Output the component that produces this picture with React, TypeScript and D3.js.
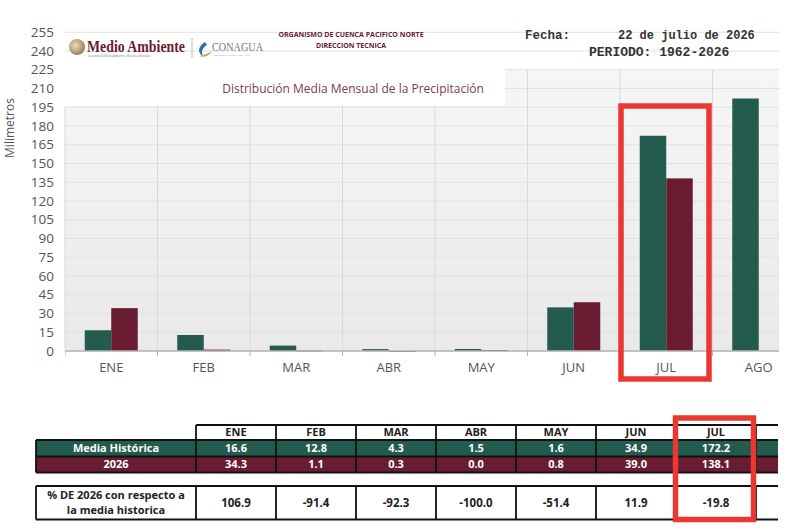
import React from 'react'
import * as d3 from 'd3'

// Monthly precipitation, mm
const months = ['ENE', 'FEB', 'MAR', 'ABR', 'MAY', 'JUN', 'JUL', 'AGO']
const mediaHistorica = [16.6, 12.8, 4.3, 1.5, 1.6, 34.9, 172.2, 202.0]
const lluvia2026 = [34.3, 1.1, 0.3, 0.0, 0.8, 39.0, 138.1, null]
const tableMonths = ['ENE', 'FEB', 'MAR', 'ABR', 'MAY', 'JUN', 'JUL']
const porcentaje = ['106.9', '-91.4', '-92.3', '-100.0', '-51.4', '11.9', '-19.8']
const yTicks = d3.range(0, 256, 15)

const GREEN = '#235B4E'
const GUINDA = '#691C32'
const RED = '#E8382F'
const FONT = "'Open Sans', Lato, sans-serif"
const MONO = "'Liberation Mono', 'DejaVu Sans Mono', monospace"
const SERIF = "'Liberation Serif', 'DejaVu Serif', serif"

export default function App() {
  const W = 799
  const H = 532
  const plot = { left: 65, right: 779, top: 32.25, bottom: 351 }

  const x = d3.scaleBand<string>().domain(months).range([plot.left, plot.left + 92.5 * months.length])
  const xSub = d3.scaleBand<string>().domain(['hist', 'y2026']).range([19.75, 72.75])
  const y = d3.scaleLinear().domain([0, 255]).range([plot.bottom, plot.top])

  // table columns
  const col = d3.scaleBand<string>().domain(months).range([196, 196 + 80 * months.length])
  const rowHead = { top: 425, bottom: 440 }
  const rowHist = { top: 440, bottom: 456.5 }
  const row26 = { top: 456.5, bottom: 472.5 }
  const rowPct = { top: 486, bottom: 519.5 }

  const bars: { m: string; key: string; v: number; color: string }[] = []
  months.forEach((m, i) => {
    bars.push({ m, key: 'hist', v: mediaHistorica[i], color: GREEN })
    const v = lluvia2026[i]
    if (v !== null) bars.push({ m, key: 'y2026', v, color: GUINDA })
  })

  return (
    <div style={{ position: 'fixed', left: 0, top: 0 }}>
      <svg width={W} height={H} style={{ display: 'block', background: '#fff' }}>
        <defs>
          <linearGradient id="plotBg" x1="0" y1="0" x2="0" y2="1">
            <stop offset="0" stopColor="#f6f6f6" />
            <stop offset="1" stopColor="#e9e9e9" />
          </linearGradient>
          <radialGradient id="emblem" cx="0.4" cy="0.4" r="0.7">
            <stop offset="0" stopColor="#e8dcc0" />
            <stop offset="0.6" stopColor="#b89f74" />
            <stop offset="1" stopColor="#7d6a4c" />
          </radialGradient>
          <clipPath id="plotClip">
            <rect x={plot.left} y={0} width={plot.right - plot.left} height={plot.bottom + 20} />
          </clipPath>
          <clipPath id="tableClip">
            <rect x={0} y={400} width={778} height={132} />
          </clipPath>
        </defs>

        {/* plot area */}
        <g clipPath="url(#plotClip)">
          <rect x={plot.left} y={y(225)} width={plot.right - plot.left} height={plot.bottom - y(225)} fill="url(#plotBg)" />
          {yTicks.map((t) => (
            <line key={t} x1={plot.left} x2={plot.right} y1={y(t)} y2={y(t)} stroke="#e1e1e1" strokeWidth={1} />
          ))}
          {months.slice(1).map((m) => (
            <line key={m} x1={x(m)} x2={x(m)} y1={y(225)} y2={plot.bottom} stroke="#d9d9d9" strokeWidth={1} />
          ))}
          {bars.map((b) => (
            <rect
              key={b.m + b.key}
              x={(x(b.m) || 0) + (xSub(b.key) || 0)}
              y={y(b.v)}
              width={xSub.bandwidth()}
              height={Math.max(plot.bottom - y(b.v), 0.8)}
              fill={b.color}
            />
          ))}
          <line x1={plot.left} x2={plot.right} y1={plot.bottom} y2={plot.bottom} stroke="#b5b5b5" strokeWidth={1.5} />
          {months.map((m) => (
            <line key={m} x1={x(m)} x2={x(m)} y1={plot.bottom} y2={plot.bottom + 5} stroke="#b5b5b5" strokeWidth={1} />
          ))}
        </g>
        <line x1={plot.left} x2={plot.left} y1={y(195)} y2={plot.bottom} stroke="#d6d6d6" />

        {/* white title box over the top of the plot */}
        <rect x={plot.left} y={y(225) - 1} width={440} height={37} fill="#fff" />
        <text x={353} y={93} textAnchor="middle" fontFamily={FONT} fontSize={12} fill="#7b3b50">
          Distribución Media Mensual de la Precipitación
        </text>

        {/* y axis */}
        {yTicks.map((t) => (
          <text key={t} x={54} y={y(t)} dy="0.35em" textAnchor="end" fontFamily={FONT} fontSize={13.5} fill="#555">
            {t}
          </text>
        ))}
        <text transform="translate(14,128) rotate(-90)" textAnchor="middle" fontFamily={FONT} fontSize={12} fill="#555">
          Milimetros
        </text>

        {/* x axis */}
        {months.map((m) => (
          <text key={m} x={(x(m) || 0) + x.bandwidth() / 2} y={372} textAnchor="middle" fontFamily={FONT} fontSize={13} fill="#555">
            {m}
          </text>
        ))}

        {/* header: logos */}
        <circle cx={77} cy={47} r={8} fill="url(#emblem)" />
        <text x={87} y={52} fontFamily={SERIF} fontWeight="bold" fontSize={16} fill={GUINDA} textLength={98} lengthAdjust="spacingAndGlyphs">
          Medio Ambiente
        </text>
        <text x={88} y={57} fontFamily={FONT} fontSize={2.6} fill="#777">
          Secretaría de Medio Ambiente y Recursos Naturales
        </text>
        <line x1={192} x2={192} y1={38} y2={58} stroke="#bbb" strokeWidth={1} />
        <path d="M205,42 C198,46 197,53 203,56 C201,52 202,48 207,45 Z" fill="#2e6db4" />
        <path d="M199,56 C205,58 210,55 212,51 C208,54 203,55 199,56 Z" fill="#c9a04a" />
        <text x={212} y={51} fontFamily={SERIF} fontSize={12} fill="#777" textLength={51} lengthAdjust="spacingAndGlyphs">
          CONAGUA
        </text>
        <text x={214} y={56} fontFamily={FONT} fontSize={2.4} fill="#999">
          COMISIÓN NACIONAL DEL AGUA
        </text>
        <text x={351} y={37} textAnchor="middle" fontFamily={FONT} fontWeight="bold" fontSize={7} fill={GUINDA}>
          ORGANISMO DE CUENCA PACIFICO NORTE
        </text>
        <text x={351} y={48} textAnchor="middle" fontFamily={FONT} fontWeight="bold" fontSize={7} fill={GUINDA}>
          DIRECCION TECNICA
        </text>

        {/* header: date block */}
        <text x={525} y={39} fontFamily={MONO} fontWeight="bold" fontSize={12.5} fill="#333">
          Fecha:
        </text>
        <text x={618} y={39} fontFamily={MONO} fontWeight="bold" fontSize={12} fill="#333">
          22 de julio de 2026
        </text>
        <text x={589} y={56} fontFamily={MONO} fontWeight="bold" fontSize={13} fill="#333">
          PERIODO: 1962-2026
        </text>

        {/* highlight on current month */}
        <rect x={621} y={106} width={88} height={273} fill="none" stroke={RED} strokeWidth={5.5} />

        {/* table */}
        <g clipPath="url(#tableClip)" fontFamily={FONT} fontWeight="bold">
          <rect x={36} y={rowHist.top} width={800} height={rowHist.bottom - rowHist.top} fill={GREEN} />
          <rect x={36} y={row26.top} width={800} height={row26.bottom - row26.top} fill={GUINDA} />
          <text x={116} y={(rowHist.top + rowHist.bottom) / 2} dy="0.36em" textAnchor="middle" fontSize={11} fill="#fff">
            Media Histórica
          </text>
          <text x={116} y={(row26.top + row26.bottom) / 2} dy="0.36em" textAnchor="middle" fontSize={11} fill="#fff">
            2026
          </text>
          {months.map((m) => {
            const cx = (col(m) || 0) + col.bandwidth() / 2
            const i = tableMonths.indexOf(m)
            return (
              <g key={m}>
                {i >= 0 && (
                  <>
                    <text x={cx} y={(rowHead.top + rowHead.bottom) / 2} dy="0.36em" textAnchor="middle" fontSize={11} fill="#222">
                      {m}
                    </text>
                    <text x={cx} y={(rowHist.top + rowHist.bottom) / 2} dy="0.36em" textAnchor="middle" fontSize={11} fill="#fff">
                      {mediaHistorica[i].toFixed(1)}
                    </text>
                    <text x={cx} y={(row26.top + row26.bottom) / 2} dy="0.36em" textAnchor="middle" fontSize={11} fill="#fff">
                      {(lluvia2026[i] as number).toFixed(1)}
                    </text>
                    <text x={cx} y={(rowPct.top + rowPct.bottom) / 2} dy="0.36em" textAnchor="middle" fontSize={11.5} fill="#222">
                      {porcentaje[i]}
                    </text>
                  </>
                )}
              </g>
            )
          })}
          <g stroke="#111" strokeWidth={1.8} fill="none">
            <line x1={196} x2={800} y1={rowHead.top} y2={rowHead.top} />
            <line x1={36} x2={800} y1={rowHist.top} y2={rowHist.top} />
            <line x1={36} x2={800} y1={row26.top} y2={row26.top} />
            <line x1={36} x2={800} y1={row26.bottom} y2={row26.bottom} />
            <line x1={36} x2={36} y1={rowHist.top} y2={row26.bottom} />
            <line x1={36} x2={800} y1={rowPct.top} y2={rowPct.top} />
            <line x1={36} x2={800} y1={rowPct.bottom} y2={rowPct.bottom} />
            <line x1={36} x2={36} y1={rowPct.top} y2={rowPct.bottom} />
            {months.map((m) => (
              <g key={m}>
                <line x1={col(m)} x2={col(m)} y1={rowHead.top} y2={row26.bottom} />
                <line x1={col(m)} x2={col(m)} y1={rowPct.top} y2={rowPct.bottom} />
              </g>
            ))}
          </g>
          <text x={116} y={499} textAnchor="middle" fontSize={11} fill="#222">
            % DE 2026 con respecto a
          </text>
          <text x={116} y={514} textAnchor="middle" fontSize={11} fill="#222">
            la media historica
          </text>
        </g>
        <rect x={675.5} y={418} width={78} height={101.5} fill="none" stroke={RED} strokeWidth={5.5} />
      </svg>
    </div>
  )
}
